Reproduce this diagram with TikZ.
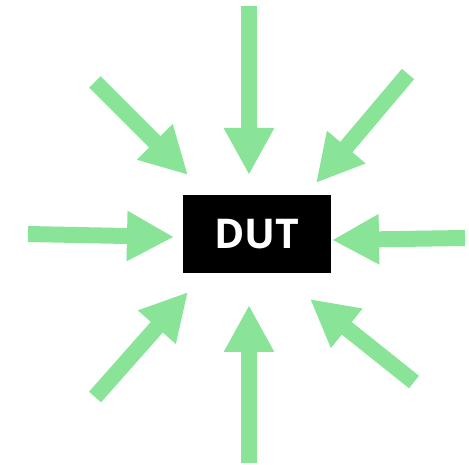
\documentclass[tikz,border=0pt]{standalone}
\usepackage{fontspec}
\setsansfont{Open Sans}
\usetikzlibrary{arrows.meta}
\definecolor{rayGreen}{RGB}{137,228,152}

\begin{document}
\begin{tikzpicture}[
            x=1pt, y=-1pt,
            font=\sffamily,
            % scatola centrale
            dut/.style={rectangle, fill=black, text=white, minimum width=148pt, minimum height=78pt, inner sep=0pt, font=\fontsize{41}{41}\selectfont\sffamily\bfseries},
            ray/.style={draw=rayGreen, line width=16pt, -{Triangle[length=47pt, width=47pt]}}
        ]
        \useasboundingbox (0,0) rectangle (469,465);

        % Nodi
        \node (dut) [dut] at (257,234) {DUT};

        % Estremi delle frecce
        \coordinate (n_start) at (249,6);    \coordinate (n_tip) at (249,175);
        \coordinate (s_start) at (249,463);  \coordinate (s_tip) at (249,305);
        \coordinate (w_start) at (28,234);   \coordinate (w_tip) at (174,237);
        \coordinate (e_start) at (465,238);  \coordinate (e_tip) at (332,240);
        \coordinate (nw_start) at (95,82);   \coordinate (nw_tip) at (188,175);
        \coordinate (ne_start) at (408,74);  \coordinate (ne_tip) at (316,183);
        \coordinate (sw_start) at (95,397);  \coordinate (sw_tip) at (188,292);
        \coordinate (se_start) at (414,382); \coordinate (se_tip) at (310,299);

        % Frecce verso il centro
        \draw [ray] (n_start) -- (n_tip);
        \draw [ray] (s_start) -- (s_tip);
        \draw [ray] (w_start) -- (w_tip);
        \draw [ray] (e_start) -- (e_tip);
        \draw [ray] (nw_start) -- (nw_tip);
        \draw [ray] (ne_start) -- (ne_tip);
        \draw [ray] (sw_start) -- (sw_tip);
        \draw [ray] (se_start) -- (se_tip);

    \end{tikzpicture}
\end{document}
